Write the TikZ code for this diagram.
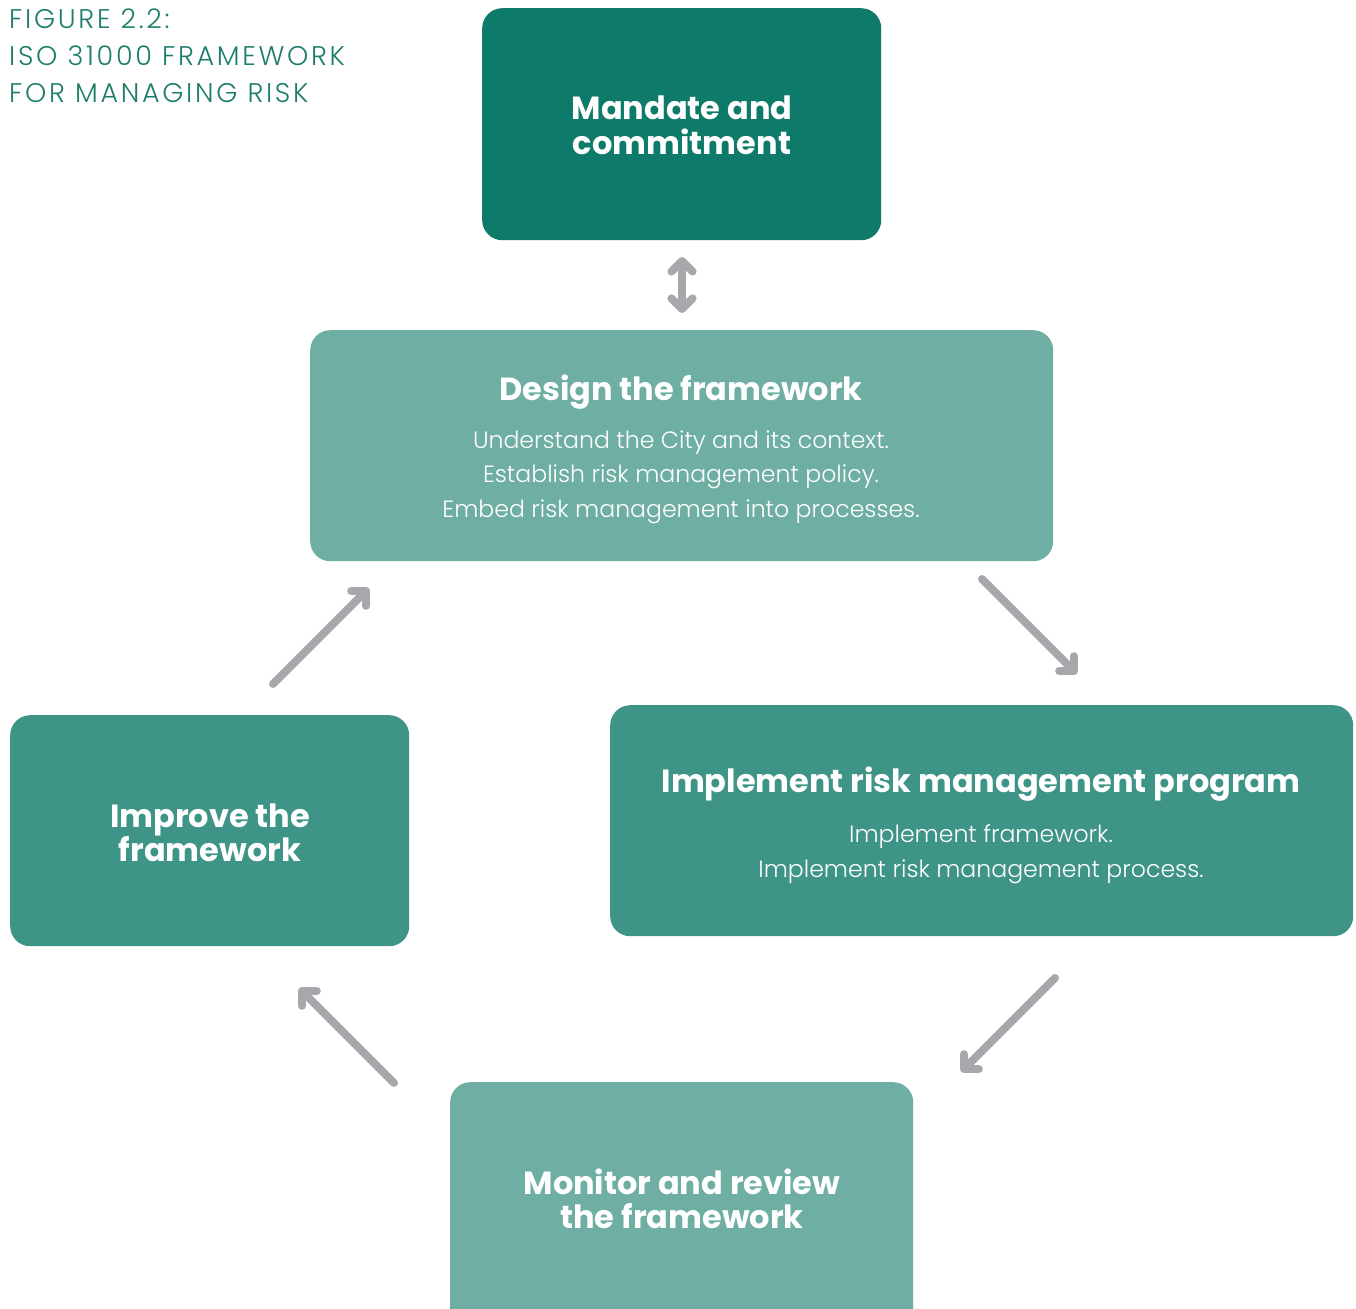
\documentclass[tikz,border=0pt]{standalone}
\usepackage{fontspec}
\setmainfont{Poppins}
\newfontfamily\lightfont{Poppins Light}
\newfontfamily\captionfont[LetterSpace=10]{Poppins Light}
\usetikzlibrary{arrows.meta}

\definecolor{darkteal}{HTML}{0E7B6A}
\definecolor{midteal}{HTML}{3D9487}
\definecolor{paleteal}{HTML}{6EAEA3}
\definecolor{arrowgrey}{HTML}{A7A8AC}
\definecolor{captiongreen}{HTML}{1D7D6C}

\tikzset{
  box/.style={rounded corners=20pt, inner sep=0pt, anchor=north west},
  title/.style={text=white, anchor=base, font=\bfseries\fontsize{32}{32}\selectfont},
  body/.style={text=white, anchor=base, font=\lightfont\fontsize{23.6}{23.6}\selectfont},
  caption/.style={text=captiongreen, anchor=base west, inner sep=0pt, font=\captionfont\fontsize{27}{27}\selectfont},
  flow/.style={draw=arrowgrey, line width=8pt, line cap=round,
    -{Straight Barb[angle=90:15pt, round]}},
  twoway/.style={draw=arrowgrey, line width=8pt, line cap=round,
    {Straight Barb[angle=90:15pt, round]}-{Straight Barb[angle=90:15pt, round]}}
}

\begin{document}
\begin{tikzpicture}[x=1pt, y=-1pt]
  \useasboundingbox (0,0) rectangle (1356,1308);
  \clip (0,0) rectangle (1356,1308);

  % caption
  \node[caption] (cap1) at (9,29) {FIGURE 2.2:};
  \node[caption] (cap2) at (9,66) {ISO 31000 FRAMEWORK};
  \node[caption] (cap3) at (9,103) {FOR MANAGING RISK};

  % boxes
  \node[box, fill=darkteal, minimum width=399pt, minimum height=232pt] (mandate) at (482,8) {};
  \node[box, fill=paleteal, minimum width=743pt, minimum height=231pt] (design) at (310,330) {};
  \node[box, fill=midteal, minimum width=743pt, minimum height=231pt] (implement) at (610,705) {};
  \node[box, fill=midteal, minimum width=399pt, minimum height=231pt] (improve) at (10,715) {};
  \node[box, fill=paleteal, minimum width=463pt, minimum height=260pt] (monitor) at (450,1082) {};

  % box texts
  \node[title] (mandateA) at (682,120) {Mandate and};
  \node[title] (mandateB) at (682,155) {commitment};

  \node[title] (designT) at (681,400) {Design the framework};
  \node[body] (designA) at (681,448) {Understand the City and its context.};
  \node[body] (designB) at (681,482) {Establish risk management policy.};
  \node[body] (designC) at (681,517) {Embed risk management into processes.};

  \node[title] (implT) at (981,792) {Implement risk management program};
  \node[body] (implA) at (981,842) {Implement framework.};
  \node[body] (implB) at (981,877) {Implement risk management process.};

  \node[title] (improveA) at (210,827) {Improve the};
  \node[title] (improveB) at (210,861) {framework};

  \node[title] (monitorA) at (682,1194) {Monitor and review};
  \node[title] (monitorB) at (682,1228) {the framework};

  % connector ends
  \coordinate (mandateOut) at (682,257);
  \coordinate (designIn) at (682,313);
  \coordinate (designOut) at (982,579);
  \coordinate (implementIn) at (1077,674);
  \coordinate (implementOut) at (1055,978);
  \coordinate (monitorIn) at (961,1072);
  \coordinate (monitorOut) at (394,1083);
  \coordinate (improveIn) at (299,988);
  \coordinate (improveOut) at (273,684);
  \coordinate (designBack) at (369,588);

  % connectors
  \draw[twoway] (mandateOut) -- (designIn);
  \draw[flow] (designOut) -- (implementIn);
  \draw[flow] (implementOut) -- (monitorIn);
  \draw[flow] (monitorOut) -- (improveIn);
  \draw[flow] (improveOut) -- (designBack);
\end{tikzpicture}
\end{document}
